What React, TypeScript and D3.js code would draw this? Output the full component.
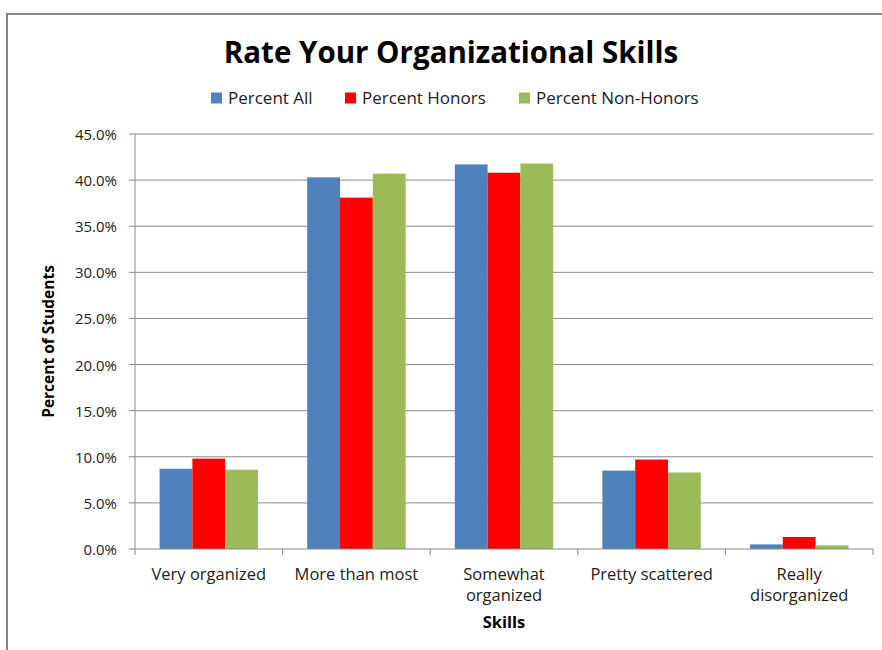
import { useEffect, useRef } from 'react';
import * as d3 from 'd3';

const categories = ['Very organized', 'More than most', 'Somewhat organized', 'Pretty scattered', 'Really disorganized'];
const categoryLines = [['Very organized'], ['More than most'], ['Somewhat', 'organized'], ['Pretty scattered'], ['Really', 'disorganized']];
const seriesNames = ['Percent All', 'Percent Honors', 'Percent Non-Honors'];
const seriesColors = ['#4F81BD', '#FF0000', '#9BBB59'];
const percentAll = [8.7, 40.3, 41.7, 8.5, 0.5];
const percentHonors = [9.8, 38.1, 40.8, 9.7, 1.3];
const percentNonHonors = [8.6, 40.7, 41.8, 8.3, 0.4];
const yTicks = [0, 5, 10, 15, 20, 25, 30, 35, 40, 45];

const FONT = "'Open Sans', 'Liberation Sans', Arial, sans-serif";

export default function App() {
  const svgRef = useRef<SVGSVGElement>(null);

  useEffect(() => {
    const svg = d3.select(svgRef.current);
    svg.selectAll('*').remove();

    const width = 882;
    const height = 650;
    const plot = { left: 135, right: 873, top: 134, bottom: 549 };

    svg.attr('width', width).attr('height', height);

    // chart frame
    svg.append('rect')
      .attr('x', 7).attr('y', 14)
      .attr('width', 900).attr('height', 700)
      .attr('fill', '#fff')
      .attr('stroke', '#868686')
      .attr('stroke-width', 2);

    const x0 = d3.scaleBand().domain(categories).range([plot.left, plot.right]).paddingInner(0).paddingOuter(0);
    const inner = x0.bandwidth() / 4.5;
    const y = d3.scaleLinear().domain([0, 45]).range([plot.bottom, plot.top]);

    // gridlines
    svg.append('g')
      .selectAll('line')
      .data(yTicks.slice(1))
      .join('line')
      .attr('x1', plot.left).attr('x2', plot.right)
      .attr('y1', d => y(d)).attr('y2', d => y(d))
      .attr('stroke', '#8a8a8a')
      .attr('stroke-width', 1);

    const values = [percentAll, percentHonors, percentNonHonors];
    const rows = categories.map((c, i) => ({ c, v: values.map(s => s[i]) }));

    svg.append('g')
      .selectAll('g')
      .data(rows)
      .join('g')
      .selectAll('rect')
      .data(d => d.v.map((v, k) => ({ c: d.c, v, k })))
      .join('rect')
      .attr('x', d => (x0(d.c) as number) + inner * 0.75 + d.k * inner)
      .attr('y', d => y(d.v))
      .attr('width', inner)
      .attr('height', d => y(0) - y(d.v))
      .attr('fill', d => seriesColors[d.k]);

    // y axis
    const yAxis = svg.append('g');
    yAxis.append('line')
      .attr('x1', plot.left).attr('x2', plot.left)
      .attr('y1', plot.top).attr('y2', plot.bottom)
      .attr('stroke', '#8a8a8a');
    yAxis.selectAll('line.tick')
      .data(yTicks)
      .join('line')
      .attr('class', 'tick')
      .attr('x1', plot.left - 6).attr('x2', plot.left)
      .attr('y1', d => y(d)).attr('y2', d => y(d))
      .attr('stroke', '#8a8a8a');
    yAxis.selectAll('text')
      .data(yTicks)
      .join('text')
      .attr('x', 117)
      .attr('y', d => y(d) + 6)
      .attr('text-anchor', 'end')
      .attr('font-family', FONT)
      .attr('font-size', 15)
      .attr('fill', '#222')
      .text(d => d.toFixed(1) + '%');

    // x axis
    const xAxis = svg.append('g');
    xAxis.append('line')
      .attr('x1', plot.left).attr('x2', plot.right)
      .attr('y1', plot.bottom).attr('y2', plot.bottom)
      .attr('stroke', '#8a8a8a');
    const edges = [...categories.map(c => x0(c) as number), plot.right];
    xAxis.selectAll('line.tick')
      .data(edges)
      .join('line')
      .attr('class', 'tick')
      .attr('x1', d => d).attr('x2', d => d)
      .attr('y1', plot.bottom).attr('y2', plot.bottom + 6)
      .attr('stroke', '#8a8a8a');
    const labels = xAxis.selectAll('text')
      .data(categories)
      .join('text')
      .attr('x', d => (x0(d) as number) + x0.bandwidth() / 2)
      .attr('y', 579.5)
      .attr('text-anchor', 'middle')
      .attr('font-family', FONT)
      .attr('font-size', 16.5)
      .attr('fill', '#222');
    labels.each(function (_, i) {
      const t = d3.select(this);
      categoryLines[i].forEach((line, j) => {
        t.append('tspan')
          .attr('x', t.attr('x'))
          .attr('dy', j === 0 ? 0 : 21)
          .text(line);
      });
    });

    // axis titles
    svg.append('text')
      .attr('x', (plot.left + plot.right) / 2)
      .attr('y', 628)
      .attr('text-anchor', 'middle')
      .attr('font-family', FONT)
      .attr('font-weight', 'bold')
      .attr('font-size', 16.5)
      .attr('fill', '#000')
      .text('Skills');

    svg.append('text')
      .attr('transform', `translate(54, ${(plot.top + plot.bottom) / 2}) rotate(-90)`)
      .attr('text-anchor', 'middle')
      .attr('font-family', FONT)
      .attr('font-weight', 'bold')
      .attr('font-size', 15.5)
      .attr('fill', '#000')
      .text('Percent of Students');

    // title
    svg.append('text')
      .attr('x', 451)
      .attr('y', 63)
      .attr('text-anchor', 'middle')
      .attr('font-family', FONT)
      .attr('font-weight', 'bold')
      .attr('font-size', 29.5)
      .attr('fill', '#000')
      .text('Rate Your Organizational Skills');

    // legend
    const legendX = [211, 345, 519];
    const legend = svg.append('g')
      .selectAll('g')
      .data(seriesNames)
      .join('g')
      .attr('transform', (_, i) => `translate(${legendX[i]}, 92.5)`);
    legend.append('rect')
      .attr('width', 11).attr('height', 11)
      .attr('fill', (_, i) => seriesColors[i]);
    legend.append('text')
      .attr('x', 17).attr('y', 11.5)
      .attr('font-family', FONT)
      .attr('font-size', 17)
      .attr('fill', '#222')
      .text(d => d);
  }, []);

  return (
    <div style={{ position: 'absolute', left: 0, top: 0 }}>
      <svg ref={svgRef} style={{ display: 'block' }} />
    </div>
  );
}
